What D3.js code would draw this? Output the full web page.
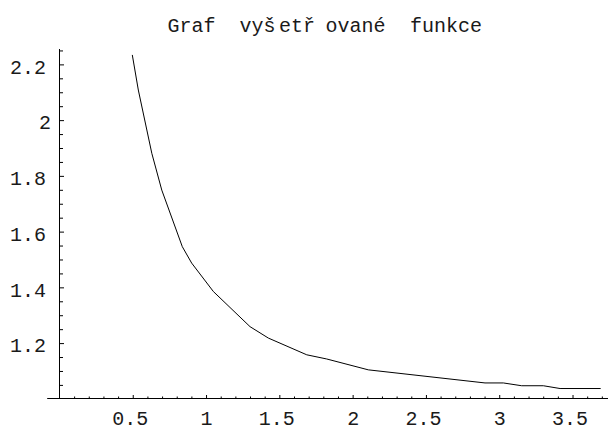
<!DOCTYPE html>
<html>
<head>
<meta charset="utf-8">
<script src="https://cdn.jsdelivr.net/npm/d3@7"></script>
<style>
  html, body { margin: 0; padding: 0; background: #fff; }
  svg { display: block; }
  text { font-family: "Liberation Mono", "DejaVu Sans Mono", monospace; fill: #1a1a1a; }
</style>
</head>
<body>
<svg id="chart" width="608" height="427"></svg>
<script>
// ---- data ----
const xValues = [0.497, 0.538, 0.630, 0.698, 0.838, 0.902, 1.050, 1.300, 1.425, 1.687, 1.823, 2.107, 2.903, 3.028, 3.153, 3.301, 3.415, 3.692];
const yValues = [2.234, 2.108, 1.881, 1.749, 1.546, 1.487, 1.385, 1.259, 1.218, 1.158, 1.143, 1.104, 1.057, 1.057, 1.047, 1.047, 1.037, 1.037];
const xTickValues = [0.5, 1, 1.5, 2, 2.5, 3, 3.5];
const yTickValues = [1.2, 1.4, 1.6, 1.8, 2, 2.2];
const xMinorTicks = [0.1,0.2,0.3,0.4,0.6,0.7,0.8,0.9,1.1,1.2,1.3,1.4,1.6,1.7,1.8,1.9,2.1,2.2,2.3,2.4,2.6,2.7,2.8,2.9,3.1,3.2,3.3,3.4,3.6,3.7];
const yMinorTicks = [1.05,1.1,1.15,1.25,1.3,1.35,1.45,1.5,1.55,1.65,1.7,1.75,1.85,1.9,1.95,2.05,2.1,2.15,2.25];
const titleParts = ["Graf", "vyš", "etř", "ované", "funkce"];
const xDomain = [-0.087, 3.742];
const yDomain = [1.003, 2.257];

// ---- layout ----
const titleX = [167.5, 239.5, 279, 325.5, 410];
const svg = d3.select("#chart");

const x = d3.scaleLinear().domain(xDomain).range([46.7, 608]);
const y = d3.scaleLinear().domain(yDomain).range([398, 48.5]);

const axisX = 59;   // pixel column of the vertical axis (x = 0)
const axisY = 398;  // pixel row of the horizontal axis

// Horizontal axis: minor ticks
svg.append("g")
  .attr("transform", `translate(0,${axisY})`)
  .call(d3.axisTop(x).tickValues(xMinorTicks).tickSize(1.5).tickSizeOuter(0).tickFormat(""))
  .call(g => g.select(".domain").remove())
  .selectAll("line").attr("stroke", "#000");

// Horizontal axis: major ticks + domain line
const gx = svg.append("g")
  .attr("transform", `translate(0,${axisY})`)
  .call(d3.axisTop(x).tickValues(xTickValues).tickSize(3).tickSizeOuter(0).tickFormat(d => String(d)));
gx.select(".domain").attr("stroke", "#000");
gx.selectAll("line").attr("stroke", "#000");
gx.selectAll("text")
  .attr("y", 26.5)
  .attr("dx", d => Number.isInteger(d) ? 0 : -3)
  .attr("dy", null)
  .attr("text-anchor", "middle")
  .style("font-size", "20px")
  .style("font-family", "'Liberation Mono', monospace")
  .attr("fill", "#1a1a1a");

// Vertical axis: minor ticks
svg.append("g")
  .attr("transform", `translate(${axisX},0)`)
  .call(d3.axisRight(y).tickValues(yMinorTicks).tickSize(4).tickSizeOuter(0).tickFormat(""))
  .call(g => g.select(".domain").remove())
  .selectAll("line").attr("stroke", "#000");

// Vertical axis: major ticks + domain line
const gy = svg.append("g")
  .attr("transform", `translate(${axisX},0)`)
  .call(d3.axisRight(y).tickValues(yTickValues).tickSize(5).tickSizeOuter(0).tickFormat(d => String(d)));
gy.select(".domain").attr("stroke", "#000");
gy.selectAll("line").attr("stroke", "#000");
gy.selectAll("text")
  .attr("x", d => Number.isInteger(d) ? -8 : -13)
  .attr("dy", null)
  .attr("y", 8.7)
  .attr("text-anchor", "end")
  .style("font-size", "20px")
  .style("font-family", "'Liberation Mono', monospace")
  .attr("fill", "#1a1a1a");

// Curve
const line = d3.line().x(d => x(d[0])).y(d => y(d[1]));
svg.append("path")
  .datum(d3.zip(xValues, yValues))
  .attr("d", line)
  .attr("fill", "none")
  .attr("stroke", "#000")
  .attr("stroke-width", 1);

// Title
const t = svg.append("text")
  .attr("y", 31.5)
  .style("font-size", "20px");
t.selectAll("tspan")
  .data(titleParts)
  .join("tspan")
  .attr("x", (d, i) => titleX[i])
  .text(d => d);
</script>
</body>
</html>
